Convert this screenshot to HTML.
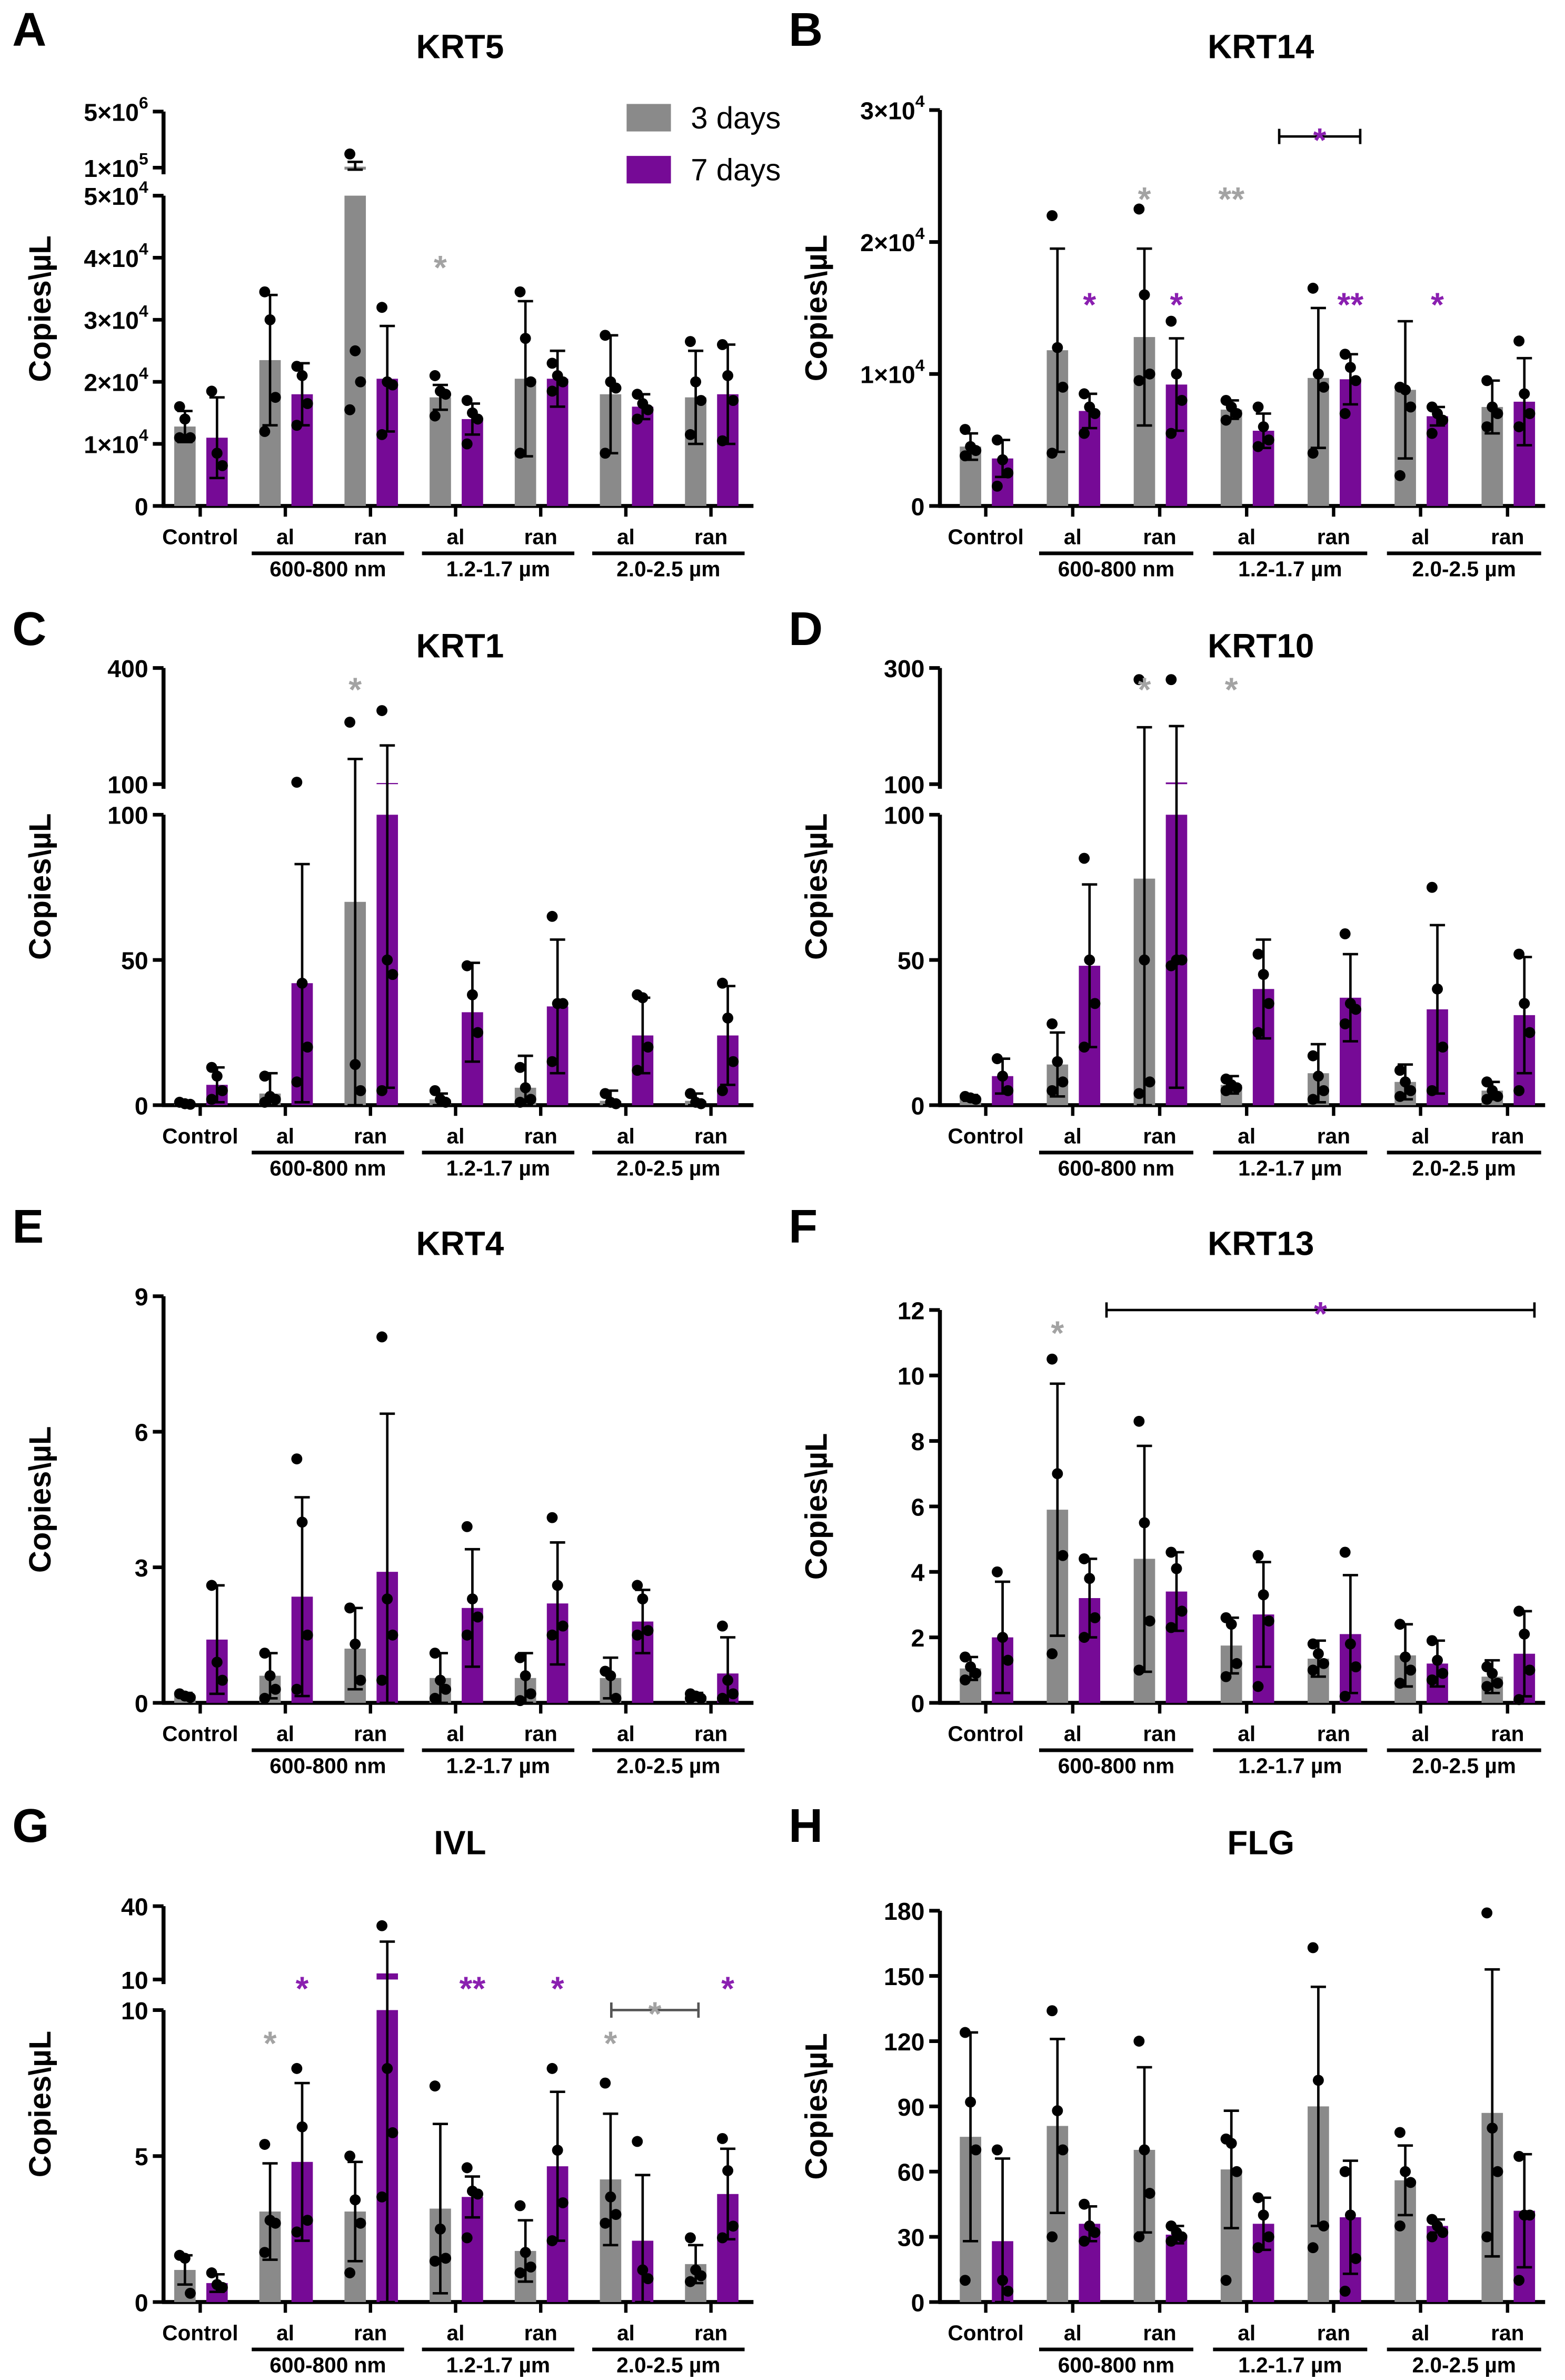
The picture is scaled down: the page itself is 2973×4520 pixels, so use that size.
<!DOCTYPE html>
<html><head><meta charset="utf-8"><style>
html,body{margin:0;padding:0;background:#fff;}
svg{display:block;font-family:"Liberation Sans",sans-serif;}
</style></head><body>
<svg id="fig" width="2973" height="4520" viewBox="0 0 1024 1557" preserveAspectRatio="none" xmlns="http://www.w3.org/2000/svg"></svg>
<script>
const groupLabels = ["Control","al","ran","al","ran","al","ran"];
const sizeLabels = ["600-800 nm","1.2-1.7 µm","2.0-2.5 µm"];

// KRT5
const krt5Day3 = [12800,23500,107000,17500,20500,18000,17500];
const krt5Day7 = [11000,18000,20500,14000,20500,16000,18000];
const krt5Err3 = [2500,10500,43000,2000,12500,9500,7500];
const krt5Err7 = [6500,5000,8500,2500,4500,2000,8000];
const krt5Dots3 = [[16000,14000,11000,11000],[34500,30000,17500,12000],[260000,25000,20000,15500],[21000,18500,18000,14500],[34500,27000,20000,8500],[27500,20000,19000,8500],[26500,20000,17000,11500]];
const krt5Dots7 = [[18500,8500,6500],[22500,21000,16500,13000],[32000,20000,19500,11500],[17000,15000,14000,10000],[23000,21000,20000,18500],[18000,16500,15500,14000],[26000,21000,17000,10500]];
// KRT14
const krt14Day3 = [4500,11800,12800,7300,9700,8800,7500];
const krt14Day7 = [3600,7200,9200,5700,9600,6800,7900];
const krt14Err3 = [1000,7700,6700,700,5300,5200,2000];
const krt14Err7 = [1400,1300,3500,1300,1900,700,3300];
const krt14Dots3 = [[5800,4500,4200,3800],[22000,12000,9000,4000],[22500,16000,10000,9500],[8000,7500,7000,6500],[16500,10000,9000,4000],[9000,8800,7500,2300],[9500,7500,7000,6000]];
const krt14Dots7 = [[5000,3500,2500,1500],[8500,7500,7000,5500],[14000,10000,8000,5500],[7500,6000,5000,4500],[11500,10500,9500,7000],[7500,7000,6500,5500],[12500,8500,7000,6000]];
// KRT1
const krt1Day3 = [0.5,4,70,2,6,1.5,1.5];
const krt1Day7 = [7,42,103,32,34,24,24];
const krt1Err3 = [0.5,7,95,2,11,3.5,2.5];
const krt1Err7 = [6,41,97,17,23,13,17];
const krt1Dots3 = [[1,0.5,0.3],[10,3,2,1],[260,14,5],[5,2,1],[13,6,2,1],[4,1,0.5],[4,1,0.5]];
const krt1Dots7 = [[13,10,5,2],[105,42,20,8],[290,50,45,5],[48,38,25],[65,35,35,15],[38,37,20,12],[42,30,15,5]];
// KRT10
const krt10Day3 = [2.5,14,78,7,11,8,5];
const krt10Day7 = [10,48,103,40,37,33,31];
const krt10Err3 = [1,11,120,3,10,6,3];
const krt10Err7 = [6,28,97,17,15,29,20];
const krt10Dots3 = [[3,2.5,2],[28,15,8,5],[280,50,8,4],[9,7,6,5],[17,10,5,2],[12,8,5,3],[8,5,3,2]];
const krt10Dots7 = [[16,10,5],[85,50,35,20],[280,50,50,48],[52,45,35,25],[59,35,33,28],[75,40,20,5],[52,35,25,5]];
// KRT4
const krt4Day3 = [0.17,0.6,1.2,0.55,0.55,0.55,0.15];
const krt4Day7 = [1.4,2.35,2.9,2.1,2.2,1.8,0.65];
const krt4Err3 = [0.05,0.5,0.9,0.55,0.55,0.45,0.07];
const krt4Err7 = [1.2,2.2,3.5,1.3,1.35,0.7,0.8];
const krt4Dots3 = [[0.2,0.15,0.12],[1.1,0.6,0.3,0.1],[2.1,1.3,0.5],[1.1,0.5,0.3,0.1],[1.0,0.6,0.2,0.05],[0.7,0.6,0.1],[0.2,0.15,0.1,0.1]];
const krt4Dots7 = [[2.6,0.9,0.5],[5.4,4.0,1.5,0.3],[8.1,2.3,1.5,0.5],[3.9,2.3,1.9,1.5],[4.1,2.6,1.7,1.5],[2.6,2.3,1.6,1.5],[1.7,0.5,0.2,0.1]];
// KRT13
const krt13Day3 = [1.05,5.9,4.4,1.75,1.35,1.45,0.8];
const krt13Day7 = [2.0,3.2,3.4,2.7,2.1,1.2,1.5];
const krt13Err3 = [0.35,3.85,3.45,0.85,0.55,0.95,0.5];
const krt13Err7 = [1.7,1.2,1.2,1.6,1.8,0.7,1.3];
const krt13Dots3 = [[1.4,1.1,0.9,0.7],[10.5,7,4.5,1.5],[8.6,5.5,2.5,1],[2.6,2.4,1.2,0.8],[1.8,1.5,1.2,1],[2.4,1.4,1,0.6],[1.1,0.9,0.6,0.5]];
const krt13Dots7 = [[4,2,1.3],[4.4,3.8,2.6,2],[4.6,4.1,2.8,2.3],[4.5,3.3,2.5,0.5],[4.6,1.8,1.1,0.2],[1.9,1.3,0.9,0.7],[2.8,2.1,1,0.1]];
// IVL
const ivlDay3 = [1.1,3.1,3.1,3.2,1.75,4.2,1.3];
const ivlDay7 = [0.65,4.8,12.5,3.6,4.65,2.1,3.7];
const ivlErr3 = [0.5,1.65,1.7,2.9,1.05,2.25,0.65];
const ivlErr7 = [0.3,2.7,13,0.7,2.55,2.25,1.55];
const ivlDots3 = [[1.6,1.5,0.3],[5.4,2.8,2.7,1.7],[5,3.5,2.7,1],[7.4,2.5,1.5,1.4],[3.3,1.7,1.2,1],[7.5,3.6,3,2.7],[2.2,1.1,0.9,0.7]];
const ivlDots7 = [[1,0.6,0.5],[8,6,2.8,2.4],[32,8,5.8,3.6],[4.6,3.8,3.7,2.2],[8,5.2,3.4,2.1],[5.5,1.1,0.8],[5.6,4.5,2.6,2.2]];
// FLG
const flgDay3 = [76,81,70,61,90,56,87];
const flgDay7 = [28,36,31,36,39,35,42];
const flgErr3 = [48,40,38,27,55,16,66];
const flgErr7 = [38,8,4,12,26,3,26];
const flgDots3 = [[124,92,70,10],[134,88,70,30],[120,70,50,30],[75,73,60,10],[163,102,35,25],[78,60,55,35],[179,80,60,30]];
const flgDots7 = [[70,10,5],[45,35,32,28],[35,32,30,28],[48,40,30,25],[60,40,20,5],[38,35,32,30],[67,40,40,10]];

const krt5Ticks = [0,10000,20000,30000,40000,50000,100000,5000000];
const krt14Ticks = [0,10000,20000,30000];
const krt1Ticks = [0,50,100,100,400];
const krt10Ticks = [0,50,100,100,300];
const krt4Ticks = [0,3,6,9];
const krt13Ticks = [0,2,4,6,8,10,12];
const ivlTicks = [0,5,10,10,40];
const flgTicks = [0,30,60,90,120,150,180];

const NS="http://www.w3.org/2000/svg";
const svg=document.getElementById('fig');
const GREY="#8a8a8a", PURPLE="#760a96", SGREY="#a3a3a3", SPURPLE="#8a1fb0";
function mk(tag,attrs,parent){const e=document.createElementNS(NS,tag);for(const k in attrs)e.setAttribute(k,attrs[k]);(parent||svg).appendChild(e);return e;}
function fmtSci(v){if(v===0)return null;const ex=Math.floor(Math.log10(v)+1e-9);const m=Math.round(v/Math.pow(10,ex));return [m+"×10",String(ex)];}

function makeScale(segs){
  return function(v){
    for(let i=0;i<segs.length;i++){const s=segs[i];
      if(v<=s.v1 || i===segs.length-1){
        if(v<s.v0) return s.y0;
        let t = s.log ? (Math.log10(v)-Math.log10(s.v0))/(Math.log10(s.v1)-Math.log10(s.v0)) : (v-s.v0)/(s.v1-s.v0);
        return s.y0+(s.y1-s.y0)*t;
      }
      if(i+1<segs.length && v>s.v1 && v<segs[i+1].v0) return segs[i+1].y0;
    }
  };
}

function panel(p){
  const g=mk('g',{});
  
  
  const y=makeScale(p.segs);
  const xs=i=>p.x0+p.dx*i;
  const L=mk('text',{x:p.ax-99,y:p.base-301,'font-size':31,'font-weight':'bold'},g);L.textContent=p.letter;
  
  const T=mk('text',{x:p.titleX,y:p.base-293,'font-size':22,'font-weight':'bold','text-anchor':'middle'},g);T.textContent=p.title;
  
  const midY=(p.base+p.segs[p.segs.length-1].y1)/2;
  const YT=mk('text',{x:0,y:0,'font-size':20,'font-weight':'bold','text-anchor':'middle',transform:`translate(${p.ax-74},${midY}) rotate(-90)`},g);YT.textContent="Copies\\µL";
  
  p.segs.forEach((s,i)=>{const a=mk('line',{x1:p.ax,x2:p.ax,y1:(i===0?p.base+1:s.y0+3),y2:s.y1,stroke:'#000','stroke-width':2.6},g);
    });
  p.ticks.forEach((t,i)=>{
    const seg=p.tickSeg[i]; const s=p.segs[seg];
    const ty=s.log? makeScale([s])(t) : s.y0+(s.y1-s.y0)*(t-s.v0)/(s.v1-s.v0);
    mk('line',{x1:p.ax-7,x2:p.ax,y1:ty,y2:ty,stroke:'#000','stroke-width':2.4},g);
    const tx=mk('text',{x:p.ax-10,y:ty+6,'font-size':16,'font-weight':'bold','text-anchor':'end'},g);
    
    if(p.sci && t!==0){const f=fmtSci(t);tx.textContent=f[0];const sp=mk('tspan',{dy:-8,'font-size':11},tx);sp.textContent=f[1];}
    else tx.textContent=String(t);
  });
  const xa=mk('line',{x1:p.ax-1,x2:p.xEnd,y1:p.base,y2:p.base,stroke:'#000','stroke-width':2.6},g);
  
  groupLabels.forEach((lab,i)=>{
    mk('line',{x1:xs(i),x2:xs(i),y1:p.base,y2:p.base+7,stroke:'#000','stroke-width':2.2},g);
    const t=mk('text',{x:xs(i),y:p.base+25,'font-size':14,'font-weight':'bold','text-anchor':'middle'},g);t.textContent=lab;
    
  });
  sizeLabels.forEach((lab,k)=>{
    const a=xs(1+2*k)-22,b=xs(2+2*k)+22;
    mk('line',{x1:a,x2:b,y1:p.base+31,y2:p.base+31,stroke:'#000','stroke-width':2.4},g);
    const t=mk('text',{x:(a+b)/2,y:p.base+46,'font-size':14,'font-weight':'bold','text-anchor':'middle'},g);t.textContent=lab;
    
  });
  [[p.d3,p.e3,p.p3,GREY,-10,'3d'],[p.d7,p.e7,p.p7,PURPLE,11,'7d']].forEach(([vals,errs,dots,col,off,nm])=>{
    vals.forEach((v,i)=>{
      const cx=xs(i)+off,w=14;
      p.segs.forEach((s,si)=>{
        if(v<=s.v0 && si>0) return;
        const yb=si===0?p.base:s.y0;
        const yt=y(Math.min(v,s.v1));
        if(yb-yt<=0) return;
        const r=mk('rect',{x:cx-w/2,y:yt,width:w,height:yb-yt,fill:col},g);
        
      });
      const top=y(v+errs[i]), bot=y(Math.max(v-errs[i],0));
      const eb=mk('path',{d:`M${cx},${bot}V${top}M${cx-5},${top}H${cx+5}M${cx-5},${bot}H${cx+5}`,stroke:'#000','stroke-width':1.6,fill:'none'},g);
      
      dots[i].forEach((d,j)=>{
        const c=mk('circle',{cx:cx+((j%3)-1)*3.5,cy:y(d),r:3.6,fill:'#000'},g);
        
      });
    });
  });
  (p.stars||[]).forEach(s=>{
    const cx=s.bracket? (s.bx1+s.bx2)/2 : xs(s.i)+(s.day===3?-10:11);
    const sy=y(s.v);
    if(s.bracket){
      const bk=mk('path',{d:`M${s.bx1},${sy+5}V${sy-5}M${s.bx1},${sy}H${s.bx2}M${s.bx2},${sy+5}V${sy-5}`,stroke:s.bcol||'#000','stroke-width':1.6,fill:'none'},g);
      
    }
    const t=mk('text',{x:cx,y:(s.bracket?sy-4:sy)+14,'font-size':22,'font-weight':'bold','text-anchor':'middle',fill:s.day===3?SGREY:SPURPLE},g);
    t.textContent=s.txt;
    
  });
}

const LX={ax:107,x0:131,dx:55.7,xEnd:493,titleX:301};
const RX={ax:615,x0:645,dx:56.9,xEnd:1011,titleX:825};

panel(Object.assign({},LX,{id:'krt5',letter:'A',title:'KRT5',base:331,sci:true,
  segs:[{v0:0,v1:50000,y0:331,y1:128},{v0:87000,v1:5000000,y0:111,y1:73,log:true}],
  ticks:krt5Ticks,tickSeg:[0,0,0,0,0,0,1,1],d3:krt5Day3,d7:krt5Day7,e3:krt5Err3,e7:krt5Err7,p3:krt5Dots3,p7:krt5Dots7,
  stars:[{i:3,day:3,v:40000,txt:'*'}]}));
panel(Object.assign({},RX,{id:'krt14',letter:'B',title:'KRT14',base:331,sci:true,
  segs:[{v0:0,v1:30000,y0:331,y1:72}],
  ticks:krt14Ticks,tickSeg:[0,0,0,0],d3:krt14Day3,d7:krt14Day7,e3:krt14Err3,e7:krt14Err7,p3:krt14Dots3,p7:krt14Dots7,
  stars:[{i:2,day:3,v:24000,txt:'*'},{i:3,day:3,v:24000,txt:'**'},{i:1,day:7,v:16000,txt:'*'},{i:2,day:7,v:16000,txt:'*'},{i:4,day:7,v:16000,txt:'**'},{i:5,day:7,v:16000,txt:'*'},
    {bracket:true,bx1:837,bx2:890,day:7,v:28000,txt:'*'}]}));
panel(Object.assign({},LX,{id:'krt1',letter:'C',title:'KRT1',base:723,sci:false,
  segs:[{v0:0,v1:100,y0:723,y1:533},{v0:100,v1:400,y0:513,y1:437}],
  ticks:krt1Ticks,tickSeg:[0,0,0,1,1],d3:krt1Day3,d7:krt1Day7,e3:krt1Err3,e7:krt1Err7,p3:krt1Dots3,p7:krt1Dots7,
  stars:[{i:2,day:3,v:370,txt:'*'}]}));
panel(Object.assign({},RX,{id:'krt10',letter:'D',title:'KRT10',base:723,sci:false,
  segs:[{v0:0,v1:100,y0:723,y1:533},{v0:100,v1:300,y0:513,y1:437}],
  ticks:krt10Ticks,tickSeg:[0,0,0,1,1],d3:krt10Day3,d7:krt10Day7,e3:krt10Err3,e7:krt10Err7,p3:krt10Dots3,p7:krt10Dots7,
  stars:[{i:2,day:3,v:280,txt:'*'},{i:3,day:3,v:280,txt:'*'}]}));
panel(Object.assign({},LX,{id:'krt4',letter:'E',title:'KRT4',base:1114,sci:false,
  segs:[{v0:0,v1:9,y0:1114,y1:848}],
  ticks:krt4Ticks,tickSeg:[0,0,0,0],d3:krt4Day3,d7:krt4Day7,e3:krt4Err3,e7:krt4Err7,p3:krt4Dots3,p7:krt4Dots7,stars:[]}));
panel(Object.assign({},RX,{id:'krt13',letter:'F',title:'KRT13',base:1114,sci:false,
  segs:[{v0:0,v1:12,y0:1114,y1:857}],
  ticks:krt13Ticks,tickSeg:[0,0,0,0,0,0,0],d3:krt13Day3,d7:krt13Day7,e3:krt13Err3,e7:krt13Err7,p3:krt13Dots3,p7:krt13Dots7,
  stars:[{i:1,day:3,v:11.6,txt:'*'},{bracket:true,bx1:724,bx2:1004,day:7,v:12,txt:'*'}]}));
panel(Object.assign({},LX,{id:'ivl',letter:'G',title:'IVL',base:1506,sci:false,
  segs:[{v0:0,v1:10,y0:1506,y1:1315},{v0:10,v1:40,y0:1295,y1:1247}],
  ticks:ivlTicks,tickSeg:[0,0,0,1,1],d3:ivlDay3,d7:ivlDay7,e3:ivlErr3,e7:ivlErr7,p3:ivlDots3,p7:ivlDots7,
  stars:[{i:1,day:3,v:9.2,txt:'*'},{i:1,day:7,v:10.3,txt:'*'},{i:3,day:7,v:10.3,txt:'**'},{i:4,day:7,v:10.3,txt:'*'},{i:5,day:3,v:9.2,txt:'*'},{i:6,day:7,v:10.3,txt:'*'},
    {bracket:true,bx1:400,bx2:457,day:3,v:10,bcol:'#555',txt:'*'}]}));
panel(Object.assign({},RX,{id:'flg',letter:'H',title:'FLG',base:1506,sci:false,
  segs:[{v0:0,v1:180,y0:1506,y1:1250}],
  ticks:flgTicks,tickSeg:[0,0,0,0,0,0,0],d3:flgDay3,d7:flgDay7,e3:flgErr3,e7:flgErr7,p3:flgDots3,p7:flgDots7,stars:[]}));

const lg=mk('g',{});


[[GREY,'3 days',68],[PURPLE,'7 days',102]].forEach(([c,t,yy])=>{
  mk('rect',{x:410,y:yy,width:29,height:18,fill:c},lg);
  const tx=mk('text',{x:452,y:yy+16,'font-size':20},lg);tx.textContent=t;
  
});
</script>
</body></html>
